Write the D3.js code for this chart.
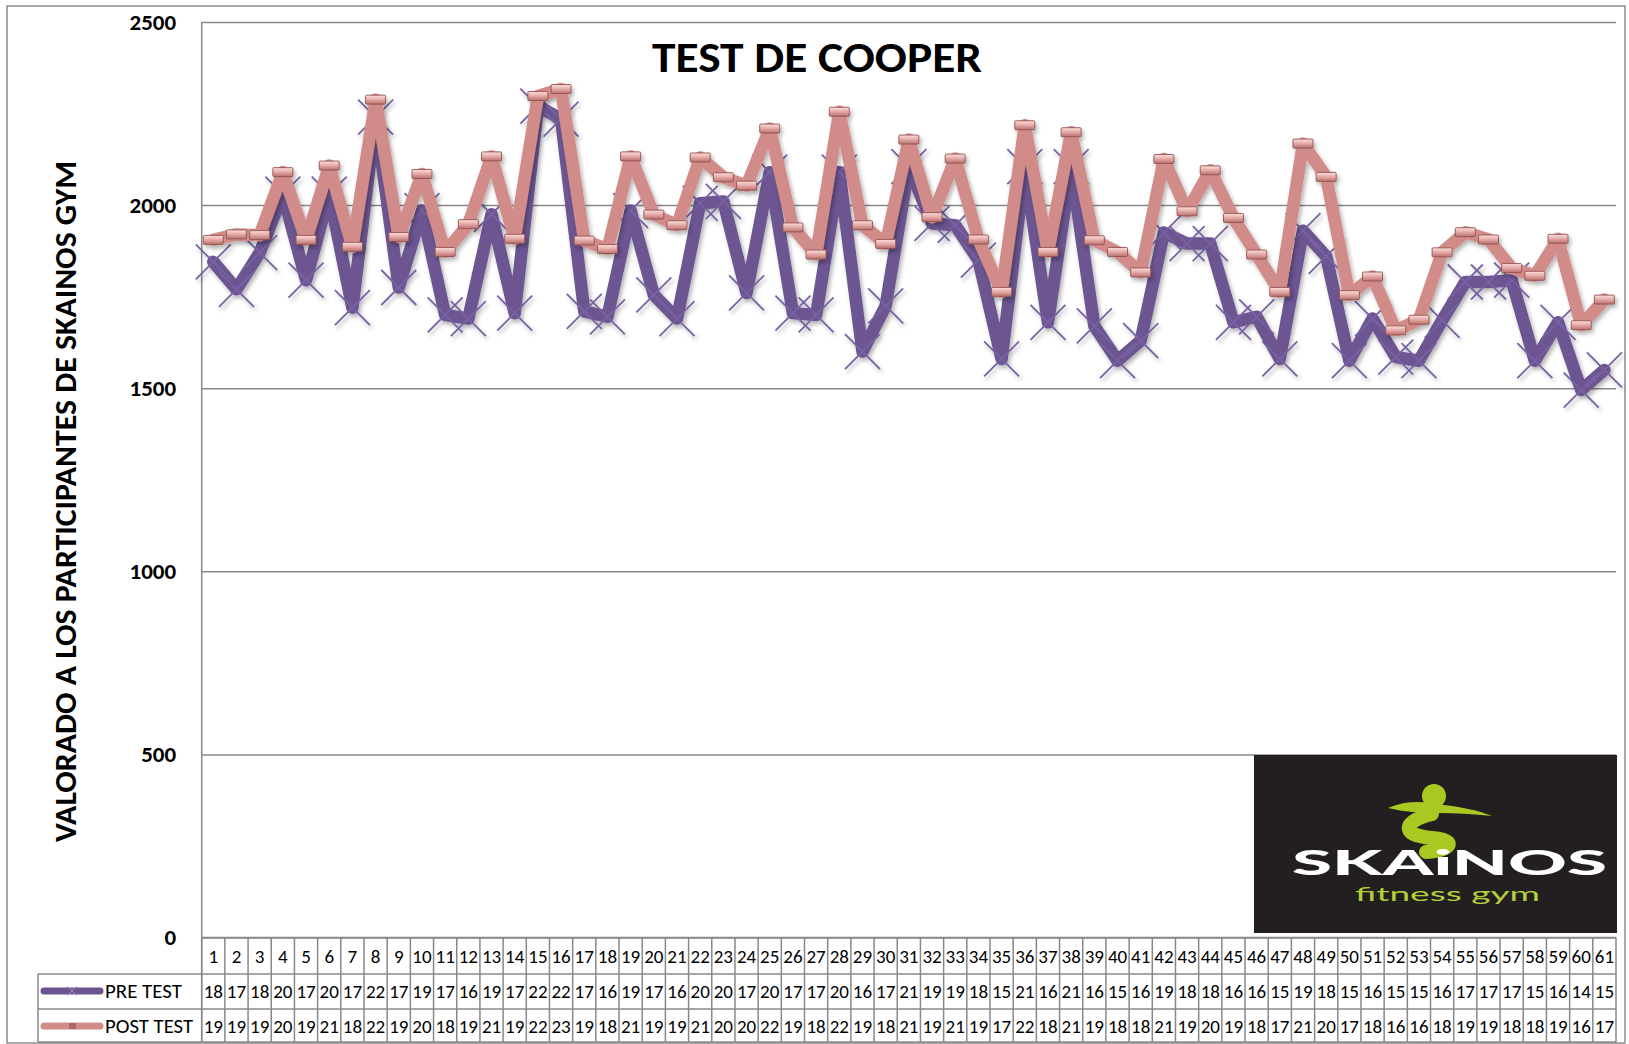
<!DOCTYPE html>
<html>
<head>
<meta charset="utf-8">
<script src="https://cdn.jsdelivr.net/npm/d3@7"></script>
<style>
  body { margin: 0; background: #fff; }
  svg { display: block; font-family: Carlito, Lato, "Open Sans", sans-serif; }
</style>
</head>
<body>
<svg id="chart" width="1629" height="1044"></svg>
<script>
const categories = [1, 2, 3, 4, 5, 6, 7, 8, 9, 10, 11, 12, 13, 14, 15, 16, 17, 18, 19, 20,
  21, 22, 23, 24, 25, 26, 27, 28, 29, 30, 31, 32, 33, 34, 35, 36, 37, 38, 39, 40,
  41, 42, 43, 44, 45, 46, 47, 48, 49, 50, 51, 52, 53, 54, 55, 56, 57, 58, 59, 60, 61];

const preTest = [1845, 1770, 1870, 2030, 1795, 2030, 1720, 2240, 1775, 1985,
  1700, 1690, 1975, 1705, 2270, 2235, 1710, 1695, 1985, 1755,
  1690, 2005, 2010, 1760, 2090, 1705, 1700, 2090, 1600, 1725,
  2105, 1950, 1945, 1850, 1580, 2105, 1680, 2105, 1670, 1575,
  1630, 1925, 1895, 1895, 1680, 1695, 1580, 1930, 1860, 1575,
  1690, 1585, 1575, 1685, 1790, 1790, 1795, 1575, 1680, 1495, 1550];

const postTest = [1905, 1920, 1918, 2090, 1905, 2108, 1886, 2288, 1913, 2085,
  1872, 1948, 2133, 1908, 2298, 2317, 1903, 1880, 2133, 1974,
  1945, 2130, 2076, 2053, 2209, 1939, 1865, 2255, 1945, 1894,
  2179, 1967, 2127, 1906, 1763, 2218, 1872, 2199, 1904, 1872,
  1816, 2126, 1983, 2095, 1965, 1865, 1763, 2168, 2077, 1754,
  1805, 1658, 1687, 1871, 1926, 1906, 1828, 1807, 1908, 1672, 1742];

const seriesNames = ['PRE TEST', 'POST TEST'];
const yTicks = [0, 500, 1000, 1500, 2000, 2500];

const plot = { left: 201.7, right: 1616, top: 22, bottom: 937.5 };
const rowLines = [937.5, 974, 1009, 1042];
const legendLeft = 38;
const purple = '#6c5491';
const pink = '#d18b88';
const gridColor = '#888';

const svg = d3.select('#chart');
const defs = svg.append('defs');

defs.append('filter')
  .attr('id', 'shadow')
  .attr('x', '-10%').attr('y', '-10%').attr('width', '130%').attr('height', '130%')
  .append('feDropShadow')
  .attr('dx', 2).attr('dy', 3).attr('stdDeviation', 2)
  .attr('flood-color', '#000').attr('flood-opacity', 0.3);

const grad = defs.append('linearGradient')
  .attr('id', 'markerFill')
  .attr('x1', 0).attr('y1', 0).attr('x2', 0).attr('y2', 1);
grad.append('stop').attr('offset', '0%').attr('stop-color', '#fbe0de');
grad.append('stop').attr('offset', '45%').attr('stop-color', '#e8aeab');
grad.append('stop').attr('offset', '100%').attr('stop-color', '#b8716e');

// chart border
svg.append('rect')
  .attr('x', 7).attr('y', 6).attr('width', 1618).attr('height', 1037)
  .attr('fill', '#fff').attr('stroke', '#8c8c8c').attr('stroke-width', 1.5);

const x = d3.scaleBand().domain(categories).range([plot.left, plot.right]);
const y = d3.scaleLinear().domain([0, 2500]).range([plot.bottom, plot.top]);
const cx = i => x(categories[i]) + x.bandwidth() / 2;

// gridlines
svg.append('g')
  .attr('transform', `translate(${plot.left},0)`)
  .call(d3.axisLeft(y).tickValues(yTicks).tickSize(-(plot.right - plot.left)).tickFormat(''))
  .call(g => g.select('.domain').remove())
  .selectAll('line')
  .attr('stroke', gridColor).attr('stroke-width', 1.5);

// y labels
svg.append('g')
  .attr('transform', `translate(${plot.left},0)`)
  .call(d3.axisLeft(y).tickValues(yTicks).tickSize(0).tickPadding(25.5).tickFormat(d3.format('d')))
  .call(g => g.select('.domain').remove())
  .selectAll('text')
  .attr('font-family', 'Carlito, Lato, sans-serif')
  .attr('font-size', 23).attr('font-weight', 'bold').attr('fill', '#000');

svg.append('line')
  .attr('x1', plot.left).attr('x2', plot.left)
  .attr('y1', plot.top).attr('y2', rowLines[3])
  .attr('stroke', gridColor).attr('stroke-width', 1.5);

// titles
svg.append('text')
  .attr('x', 817).attr('y', 71.7)
  .attr('text-anchor', 'middle')
  .attr('font-size', 42).attr('font-weight', 'bold')
  .attr('textLength', 330).attr('lengthAdjust', 'spacingAndGlyphs')
  .text('TEST DE COOPER');

svg.append('text')
  .attr('transform', 'translate(76,501.5) rotate(-90)')
  .attr('text-anchor', 'middle')
  .attr('font-size', 30).attr('font-weight', 'bold')
  .attr('textLength', 681).attr('lengthAdjust', 'spacingAndGlyphs')
  .text('VALORADO A LOS PARTICIPANTES DE SKAINOS GYM');

// series
const line = d3.line()
  .x((d, i) => cx(i))
  .y(d => y(d));

const xMark = s => `M${-s},${-s}L${s},${s}M${-s},${s}L${s},${-s}`;

const preG = svg.append('g').attr('filter', 'url(#shadow)');
preG.append('path')
  .datum(preTest)
  .attr('d', line)
  .attr('fill', 'none').attr('stroke', purple)
  .attr('stroke-width', 12.5).attr('stroke-linejoin', 'round').attr('stroke-linecap', 'round');
preG.selectAll('path.mark')
  .data(preTest)
  .join('path')
  .attr('class', 'mark')
  .attr('transform', (d, i) => `translate(${cx(i)},${y(d)})`)
  .attr('d', xMark(17.5))
  .attr('stroke', '#7762a3').attr('stroke-width', 1.8).attr('fill', 'none');

const postG = svg.append('g').attr('filter', 'url(#shadow)');
postG.append('path')
  .datum(postTest)
  .attr('d', line)
  .attr('fill', 'none').attr('stroke', pink)
  .attr('stroke-width', 12.5).attr('stroke-linejoin', 'round').attr('stroke-linecap', 'round');
postG.selectAll('rect.mark')
  .data(postTest)
  .join('rect')
  .attr('class', 'mark')
  .attr('x', (d, i) => cx(i) - 10).attr('y', d => y(d) - 4.5)
  .attr('width', 20).attr('height', 9).attr('rx', 1)
  .attr('fill', 'url(#markerFill)').attr('stroke', '#93514f').attr('stroke-width', 0.9);

// data table
const table = svg.append('g');
rowLines.forEach((ly, k) => {
  table.append('line')
    .attr('x1', k === 0 ? plot.left : legendLeft).attr('x2', plot.right)
    .attr('y1', ly).attr('y2', ly)
    .attr('stroke', gridColor).attr('stroke-width', 1.5);
});
table.selectAll('line.col')
  .data(categories.concat(['end']))
  .join('line')
  .attr('class', 'col')
  .attr('x1', d => d === 'end' ? plot.right : x(d))
  .attr('x2', d => d === 'end' ? plot.right : x(d))
  .attr('y1', rowLines[0]).attr('y2', rowLines[3])
  .attr('stroke', gridColor).attr('stroke-width', 1.5);
table.append('line')
  .attr('x1', legendLeft).attr('x2', legendLeft)
  .attr('y1', rowLines[1]).attr('y2', rowLines[3])
  .attr('stroke', gridColor).attr('stroke-width', 1.5);

table.selectAll('text.cat')
  .data(categories)
  .join('text')
  .attr('class', 'cat')
  .attr('x', (d, i) => cx(i)).attr('y', 963)
  .attr('text-anchor', 'middle').attr('font-size', 19)
  .text(d => d);

// cells are too narrow for the full value: only the first two digits show
[preTest, postTest].forEach((vals, r) => {
  table.selectAll(`text.val${r}`)
    .data(vals)
    .join('text')
    .attr('class', `val${r}`)
    .attr('x', (d, i) => cx(i))
    .attr('y', r === 0 ? 998 : 1033)
    .attr('text-anchor', 'middle')
    .attr('font-size', 19)
    .text(d => String(d).slice(0, 2));
});

// legend keys
const keyY = [991, 1026];
const legend = svg.append('g');
seriesNames.forEach((name, r) => {
  legend.append('line')
    .attr('x1', 44).attr('x2', 100)
    .attr('y1', keyY[r]).attr('y2', keyY[r])
    .attr('stroke', r === 0 ? purple : pink)
    .attr('stroke-width', 7).attr('stroke-linecap', 'round');
  if (r === 0) {
    legend.append('path')
      .attr('transform', `translate(72,${keyY[r]})`)
      .attr('d', xMark(4.5))
      .attr('stroke', '#9a89bd').attr('stroke-width', 1);
  } else {
    legend.append('rect')
      .attr('x', 69).attr('y', keyY[r] - 3).attr('width', 7).attr('height', 6)
      .attr('fill', '#a8696a');
  }
  legend.append('text')
    .attr('x', 105).attr('y', r === 0 ? 998 : 1033)
    .attr('font-size', 20)
    .attr('textLength', r === 0 ? 77 : 88).attr('lengthAdjust', 'spacingAndGlyphs')
    .text(name);
});

// logo
const logo = svg.append('g');
logo.append('rect')
  .attr('x', 1254).attr('y', 755).attr('width', 363).attr('height', 178)
  .attr('fill', '#231f20');
const lime = '#a9c922';
logo.append('circle').attr('cx', 1434).attr('cy', 796).attr('r', 12).attr('fill', lime);
logo.append('path')
  .attr('d', 'M1388,808 C1405,801 1420,801 1438,804 C1460,807 1478,810 1492,816 C1474,814 1455,813 1438,813 C1420,813 1404,812 1388,808 Z')
  .attr('fill', lime);
logo.append('path')
  .attr('d', 'M1432,814 C1400,822 1402,836 1432,838 C1458,840 1452,850 1426,852')
  .attr('fill', 'none').attr('stroke', lime).attr('stroke-width', 14).attr('stroke-linecap', 'round');
logo.append('text')
  .attr('x', 1292).attr('y', 875)
  .attr('font-family', 'Lato, sans-serif').attr('font-weight', 900).attr('font-size', 34)
  .attr('fill', '#fff')
  .attr('textLength', 315).attr('lengthAdjust', 'spacingAndGlyphs')
  .text('SKAiNOS');
logo.append('text')
  .attr('x', 1355).attr('y', 901)
  .attr('font-family', 'Lato, sans-serif').attr('font-size', 19)
  .attr('fill', '#b3cf3a')
  .attr('textLength', 185).attr('lengthAdjust', 'spacingAndGlyphs')
  .text('fitness gym');
</script>
</body>
</html>
